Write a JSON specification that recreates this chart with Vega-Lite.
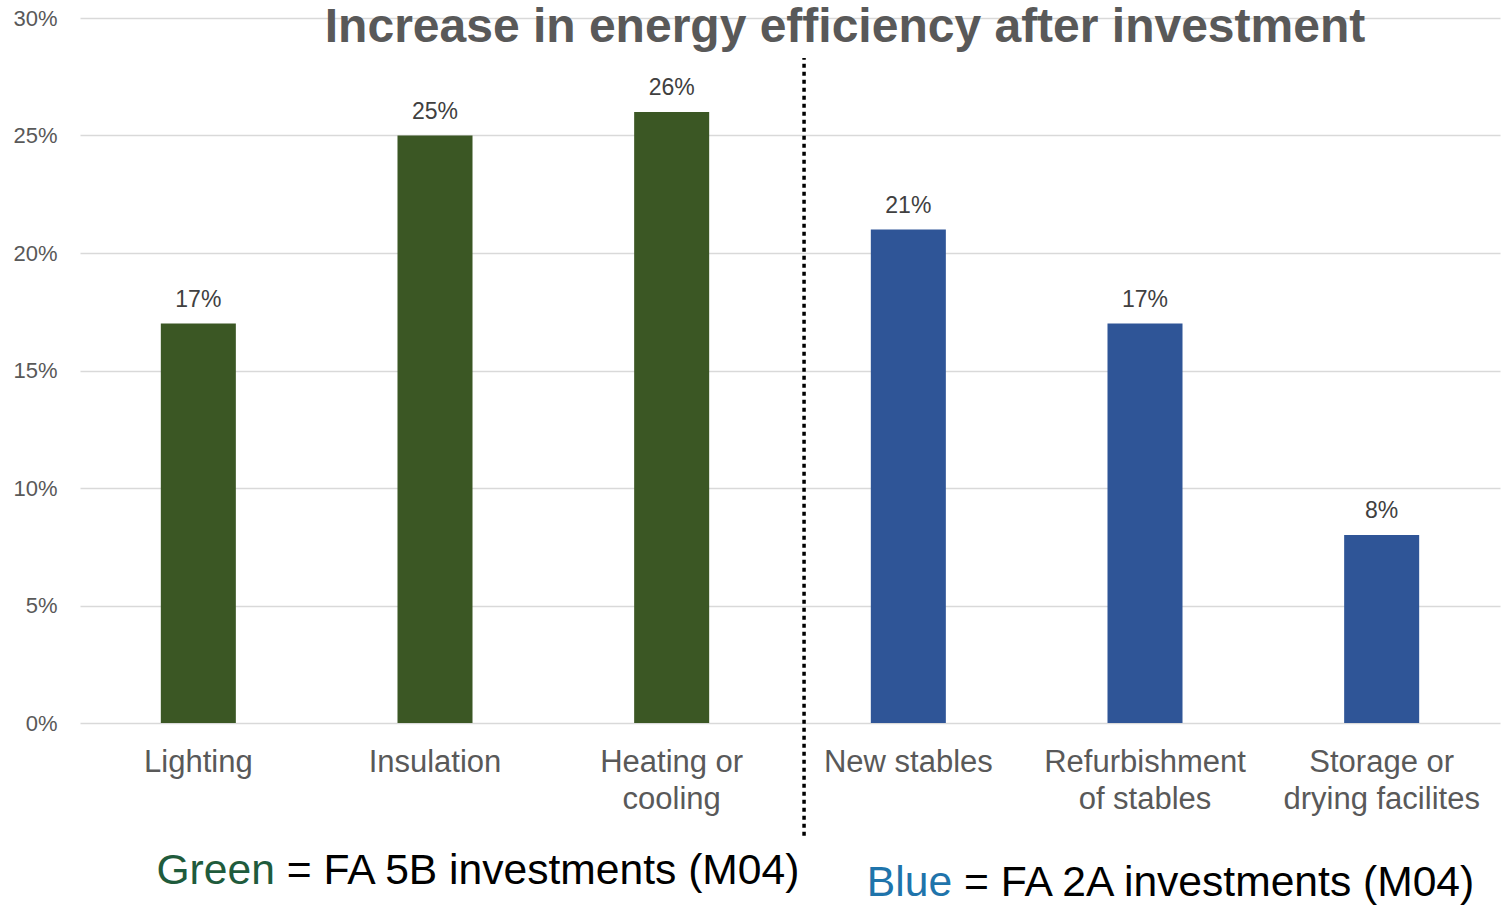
{
  "$schema": "https://vega.github.io/schema/vega-lite/v6.json",
  "width": 1420,
  "height": 705,
  "autosize": {"type": "none"},
  "padding": {"left": 80, "top": 18, "right": 3, "bottom": 185},
  "background": "white",
  "title": {
    "text": "Increase in energy efficiency after investment",
    "fontSize": 48,
    "fontWeight": "bold",
    "color": "#595959",
    "font": "Liberation Sans",
    "anchor": "middle",
    "frame": "group",
    "dx": 55,
    "dy": 49
  },
  "config": {"font": "Liberation Sans", "view": {"stroke": null}},
  "data": {
    "values": [
      {"category": "Lighting", "value": 0.17, "group": "FA 5B"},
      {"category": "Insulation", "value": 0.25, "group": "FA 5B"},
      {"category": "Heating or cooling", "value": 0.26, "group": "FA 5B"},
      {"category": "New stables", "value": 0.21, "group": "FA 2A"},
      {"category": "Refurbishment of stables", "value": 0.17, "group": "FA 2A"},
      {"category": "Storage or drying facilites", "value": 0.08, "group": "FA 2A"}
    ]
  },
  "layer": [
    {
      "mark": {"type": "bar"},
      "encoding": {
        "x": {
          "field": "category",
          "type": "nominal",
          "sort": null,
          "scale": {"paddingInner": 0.683, "paddingOuter": 0.3415},
          "axis": {
            "title": null,
            "labelAngle": 0,
            "domain": false,
            "ticks": false,
            "labelFontSize": 31,
            "labelColor": "#595959",
            "labelPadding": 24,
            "labelLineHeight": 37,
            "labelLimit": 400,
            "labelExpr": "datum.label == 'Heating or cooling' ? ['Heating or', 'cooling'] : datum.label == 'Refurbishment of stables' ? ['Refurbishment', 'of stables'] : datum.label == 'Storage or drying facilites' ? ['Storage or', 'drying facilites'] : datum.label"
          }
        },
        "y": {
          "field": "value",
          "type": "quantitative",
          "scale": {"domain": [0, 0.3], "nice": false},
          "axis": {
            "title": null,
            "values": [0, 0.05, 0.1, 0.15, 0.2, 0.25, 0.3],
            "format": ".0%",
            "domain": false,
            "ticks": false,
            "labelFontSize": 22,
            "labelColor": "#595959",
            "labelPadding": 23,
            "gridColor": "#D9D9D9",
            "gridWidth": 1.5
          }
        },
        "color": {
          "field": "group",
          "type": "nominal",
          "scale": {"domain": ["FA 5B", "FA 2A"], "range": ["#3B5724", "#2F5597"]},
          "legend": null
        }
      }
    },
    {
      "mark": {"type": "text", "baseline": "alphabetic", "dy": -17, "fontSize": 23, "color": "#404040"},
      "encoding": {
        "x": {"field": "category", "type": "nominal", "sort": null},
        "y": {"field": "value", "type": "quantitative"},
        "text": {"field": "value", "format": ".0%"}
      }
    },
    {
      "data": {"values": [{}]},
      "mark": {"type": "rule", "strokeDash": [4, 4], "strokeWidth": 3.5, "color": "black"},
      "encoding": {
        "x": {"datum": "New stables", "bandPosition": -0.89},
        "y": {"datum": -0.048},
        "y2": {"datum": 0.283}
      }
    },
    {
      "data": {"values": [{}]},
      "mark": {"type": "text", "text": "Green", "align": "right", "baseline": "alphabetic", "fontSize": 42.6, "color": "#1F5B3C", "dx": -6},
      "encoding": {
        "x": {"datum": "Lighting", "bandPosition": 1.6},
        "y": {"datum": -0.0686}
      }
    },
    {
      "data": {"values": [{}]},
      "mark": {"type": "text", "text": "= FA 5B investments (M04)", "align": "left", "baseline": "alphabetic", "fontSize": 42.6, "color": "black", "dx": 6},
      "encoding": {
        "x": {"datum": "Lighting", "bandPosition": 1.6},
        "y": {"datum": -0.0686}
      }
    },
    {
      "data": {"values": [{}]},
      "mark": {"type": "text", "text": "Blue", "align": "right", "baseline": "alphabetic", "fontSize": 42.6, "color": "#1F74AB", "dx": -6},
      "encoding": {
        "x": {"datum": "New stables", "bandPosition": 1.163},
        "y": {"datum": -0.0737}
      }
    },
    {
      "data": {"values": [{}]},
      "mark": {"type": "text", "text": "= FA 2A investments (M04)", "align": "left", "baseline": "alphabetic", "fontSize": 42.6, "color": "black", "dx": 6},
      "encoding": {
        "x": {"datum": "New stables", "bandPosition": 1.163},
        "y": {"datum": -0.0737}
      }
    }
  ]
}
